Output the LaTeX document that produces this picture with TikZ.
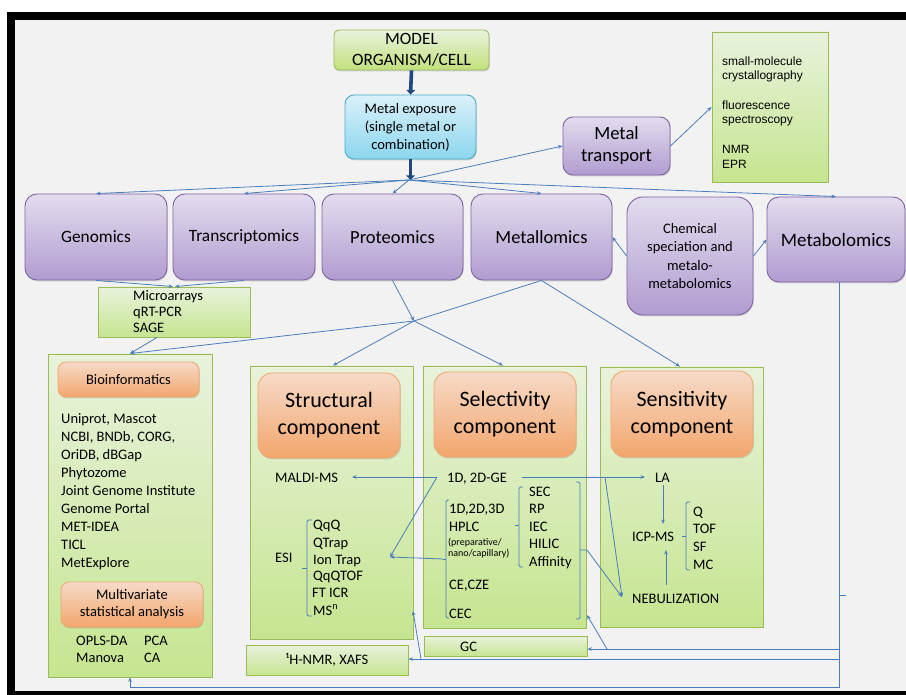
\documentclass[tikz,border=0pt]{standalone}
\usepackage{fontspec}
\setmainfont{Carlito}
\newfontfamily\arialf{Liberation Sans}
\usetikzlibrary{arrows.meta,shadows,calc}
\newcommand\myfs[2]{\fontsize{#1}{#2}\selectfont}
\definecolor{bgc}{HTML}{F2F2F2}
\definecolor{connc}{HTML}{4A7EBB}
\definecolor{navyc}{HTML}{1F497D}
\definecolor{purT}{HTML}{E3DCEE}
\definecolor{purB}{HTML}{B09CD0}
\definecolor{purD}{HTML}{8064A2}
\definecolor{grT}{HTML}{E8F2DC}
\definecolor{grB}{HTML}{C6E590}
\definecolor{grD}{HTML}{9BBB59}
\definecolor{orT}{HTML}{F6DAC8}
\definecolor{orB}{HTML}{F2A66C}
\definecolor{orD}{HTML}{F0A870}
\definecolor{blT}{HTML}{DAF0F8}
\definecolor{blB}{HTML}{8CD6EF}
\definecolor{blD}{HTML}{4BACC6}
\definecolor{mdB}{HTML}{C3E07C}
\tikzset{
  shad/.style={drop shadow={shadow xshift=0.8pt,shadow yshift=-1.4pt,opacity=0.3}},
  conn/.style={draw=connc, line width=0.8pt},
  arr/.style={conn, -{Stealth[length=4.5pt,width=3.6pt]}},
  tarr/.style={draw=navyc, line width=3.6pt, -{Triangle[length=4.5pt,width=8.5pt]}},
  brk/.style={draw=connc, line width=0.9pt, rounded corners=1.5pt},
  pbox/.style={rounded corners=12pt, draw=purD, line width=0.9pt, top color=purT, bottom color=purB, align=center, inner sep=0pt, shad},
  gbox/.style={draw=grD, line width=0.9pt, top color=grT, bottom color=grB, inner sep=0pt, shad},
  obox/.style={rounded corners=10pt, draw=orD, line width=0.9pt, top color=orT, bottom color=orB, align=center, inner sep=0pt, shad},
  bbox/.style={rounded corners=9pt, draw=blD, line width=0.9pt, top color=blT, bottom color=blB, align=center, inner sep=0pt, shad},
  txt/.style={inner sep=0pt, anchor=base west, font=\myfs{14.5}{18}},
  blk/.style={inner sep=0pt, anchor=north west, align=left},
}
\begin{document}
\begin{tikzpicture}[x=1pt,y=-1pt]
\useasboundingbox (0,0) rectangle (906,695);
\fill[white] (0,0) rectangle (906,695);
\fill[black] (7,12) rectangle (906,695);
\fill[bgc] (15,20) rectangle (906,691);

% top
\node[gbox, rounded corners=5pt, top color=grT, bottom color=mdB, align=center, minimum width=155pt, minimum height=40pt, font=\myfs{17.3}{21}] (model) at (411.5,50) {MODEL\\ORGANISM/CELL};
\node[bbox, minimum width=131pt, minimum height=64pt, font=\myfs{14.5}{18}] (expo) at (410.5,127) {Metal exposure\\(single metal or\\combination)};
\node[pbox, rounded corners=10pt, minimum width=107pt, minimum height=58pt, font=\myfs{18.7}{22}] (mtrans) at (616.5,146) {Metal\\transport};
\node[gbox, minimum width=116pt, minimum height=150pt] (spec) at (770,107) {};
\node[blk, font=\arialf\myfs{12}{14.6}] (spectxt) at (722,54) {\rule{0pt}{11pt}small-molecule\\crystallography\\[15pt]fluorescence\\spectroscopy\\[15pt]NMR\\EPR};

% omics row
\node[pbox, minimum width=142pt, minimum height=86pt, font=\myfs{17.3}{21}] (genom) at (96,237) {Genomics};
\node[pbox, minimum width=142pt, minimum height=86pt, font=\myfs{17.3}{21}] (transc) at (244,237) {Transcriptomics};
\node[pbox, minimum width=141pt, minimum height=86pt, font=\myfs{18.5}{21}] (proteo) at (392.5,237) {Proteomics};
\node[pbox, minimum width=141pt, minimum height=86pt, font=\myfs{18.5}{21}] (metall) at (541.5,237) {Metallomics};
\node[pbox, rounded corners=16pt, minimum width=126pt, minimum height=118pt, font=\myfs{14.5}{18.3}] (chem) at (690,256) {Chemical\\speciation and\\metalo-\\metabolomics};
\node[pbox, minimum width=138pt, minimum height=85pt, font=\myfs{19}{21}] (metab) at (836,239.5) {Metabolomics};

% microarrays
\node[gbox, minimum width=152pt, minimum height=50pt] (micro) at (174,312) {};
\node[blk, font=\myfs{14.5}{16}] (microtxt) at (133,289) {\rule{0pt}{11pt}Microarrays\\qRT-PCR\\SAGE};

% bioinformatics
\node[gbox, minimum width=164pt, minimum height=323pt] (bioG) at (130,515.5) {};
\node[obox, rounded corners=8pt, minimum width=141pt, minimum height=35pt, font=\myfs{14.5}{18}] (bioO) at (128.5,379.5) {Bioinformatics};
\node[blk, font=\myfs{14.5}{18}] (biolist) at (61,412) {\rule{0pt}{11pt}Uniprot, Mascot\\NCBI, BNDb, CORG,\\OriDB, dBGap\\Phytozome\\Joint Genome Institute\\Genome Portal\\MET-IDEA\\TICL\\MetExplore};
\node[obox, rounded corners=8pt, minimum width=142pt, minimum height=45pt, font=\myfs{14.5}{17}] (multi) at (132,604.5) {Multivariate\\statistical analysis};
\node[txt] (opls) at (76,645) {OPLS-DA};
\node[txt] (pca) at (144,645) {PCA};
\node[txt] (manova) at (76,662) {Manova};
\node[txt] (ca) at (144,662) {CA};

% structural
\node[gbox, minimum width=163pt, minimum height=273pt] (strG) at (331.5,502.5) {};
\node[obox, rounded corners=14pt, minimum width=142pt, minimum height=85pt, font=\myfs{22}{27}] (strO) at (329,415.5) {Structural\\component};
\node[txt] (maldi) at (275,482) {MALDI-MS};
\node[txt] (esi) at (275,562) {ESI};
\draw[brk] (312,520) -- (307,520) -- (307,616) -- (312,616);
\draw[brk] (307,568) -- (302,568);
\node[txt] (qqq) at (313,529) {QqQ};
\node[txt] (qtrap) at (313,547) {QTrap};
\node[txt] (iontrap) at (313,564) {Ion Trap};
\node[txt] (qqqtof) at (313,580) {QqQTOF};
\node[txt] (fticr) at (312,597) {FT ICR};
\node[txt] (msn) at (313,615) {MS\textsuperscript{n}};
\node[gbox, minimum width=162pt, minimum height=30pt, font=\myfs{14.5}{18}] (nmr) at (327,660) {¹H-NMR, XAFS};

% selectivity
\node[gbox, minimum width=163pt, minimum height=262pt] (selG) at (504.5,497) {};
\node[obox, rounded corners=14pt, minimum width=142pt, minimum height=85pt, font=\myfs{22}{27}] (selO) at (505,414.5) {Selectivity\\component};
\node[txt] (ge) at (447,482) {1D, 2D-GE};
\draw[brk] (449,500) -- (446,500) -- (446,618) -- (449,618);
\draw[brk] (446,559) -- (443,559);
\node[txt] (d123) at (449,513) {1D,2D,3D};
\node[txt] (hplc) at (449,531) {HPLC};
\node[txt, font=\myfs{10}{11}] (prep) at (448,545) {(preparative/};
\node[txt, font=\myfs{10}{11}] (nano) at (448,556) {nano/capillary)};
\node[txt] (cecze) at (449,589) {CE,CZE};
\node[txt] (cec) at (449,618) {CEC};
\draw[brk] (523,487) -- (519,487) -- (519,567) -- (523,567);
\draw[brk] (519,525) -- (515,525);
\node[txt] (sec) at (529,496) {SEC};
\node[txt] (rp) at (529,513.5) {RP};
\node[txt] (iec) at (529,531) {IEC};
\node[txt] (hilic) at (529,548.5) {HILIC};
\node[txt] (aff) at (529,566) {Affinity};
\draw[brk] (576,482) -- (580,482) -- (580,619) -- (576,619);
\node[gbox, minimum width=163pt, minimum height=20pt] (gc) at (505.5,646) {};
\node[txt] (gctxt) at (460,651) {GC};

% sensitivity
\node[gbox, minimum width=163pt, minimum height=260pt] (senG) at (681.5,497) {};
\node[obox, rounded corners=14pt, minimum width=142pt, minimum height=86pt, font=\myfs{22}{27}] (senO) at (682,414) {Sensitivity\\component};
\node[txt] (la) at (655,482) {LA};
\node[txt] (icp) at (632,541) {ICP-MS};
\draw[brk] (690,502) -- (686,502) -- (686,570) -- (690,570);
\draw[brk] (686,536) -- (682,536);
\node[txt] (q) at (693,516) {Q};
\node[txt] (tof) at (693,533.5) {TOF};
\node[txt] (sf) at (693,551) {SF};
\node[txt] (mc) at (693,569) {MC};
\node[txt] (neb) at (632,603) {NEBULIZATION};

% connectors
\coordinate (hub1) at (409,180);
\coordinate (hub2) at (414,321);
\draw[tarr] (model.south) -- (expo.north);
\draw[tarr] (expo.south) -- (expo.south |- hub1);
\foreach \t in {genom,transc,proteo,metall,metab} \draw[arr] (hub1) -- (\t.north);
\draw[arr] (hub1) -- (mtrans.west);
\draw[arr] (mtrans.east) -- (spec.west);
\draw[arr] (chem.west) -- (metall.east);
\draw[arr] (chem.east) -- (metab.west);
\draw[arr] (genom.south) -- ([xshift=-1pt]micro.north);
\draw[arr] (transc.south) -- ([xshift=1pt]micro.north);
\draw[arr] ([xshift=-17pt]micro.south) -- (bioG.north);
\draw[arr] (proteo.south) -- (hub2);
\draw[conn] (metall.south) -- (hub2);
\draw[arr] (hub2) -- (bioG.north);
\draw[arr] (hub2) -- ([xshift=1.5pt]strG.north);
\draw[arr] (hub2) -- ([xshift=-1.5pt]selG.north);
\draw[arr] (metall.south) -- ([xshift=-1.5pt]senG.north);

\coordinate (geL) at (437,477);
\coordinate (geR) at (522,477);
\coordinate (geV) at (605,477);
\coordinate (maldiIn) at (352,477);
\coordinate (esiIn) at (390,557);
\coordinate (lbT) at (443,559);
\coordinate (laIn) at (645,477);
\coordinate (nebIn) at (622,597);
\coordinate (rbT) at (580,550);
\draw[arr] (geL) -- (maldiIn);
\draw[arr] (geL) -- (esiIn);
\draw[arr] (lbT) -- (esiIn);
\draw[arr] (geR) -- (laIn);
\draw[arr] (geV) -- (nebIn);
\draw[arr] (rbT) -- ++(7,0) -- (nebIn);
\coordinate (laOut) at (663,485);
\coordinate (icpIn) at (663,524);
\coordinate (nebOut) at (666,585);
\coordinate (icpIn2) at (666,550);
\draw[arr] (laOut) -- (icpIn);
\draw[arr] (nebOut) -- (icpIn2);

\coordinate (busBot) at (839,687.5);
\coordinate (busTick) at (839,595);
\coordinate (bus1) at (839,649);
\coordinate (bus2) at (839,659);
\coordinate (b1s) at (607,649);
\coordinate (selIn) at (587,615);
\coordinate (b2s) at (421,659);
\coordinate (strIn) at (413,611);
\draw[conn] ([xshift=3pt]metab.south) -- (busBot);
\draw[conn] (busTick) -- ++(7,0);
\draw[arr] (bus1) -- (gc.east |- bus1);
\draw[arr] (b1s) -- (selIn);
\draw[arr] (bus2) -- (nmr.east |- bus2);
\draw[arr] (b2s) -- (strIn);
\draw[arr] (busBot) -| (bioG.south);
\end{tikzpicture}
\end{document}
